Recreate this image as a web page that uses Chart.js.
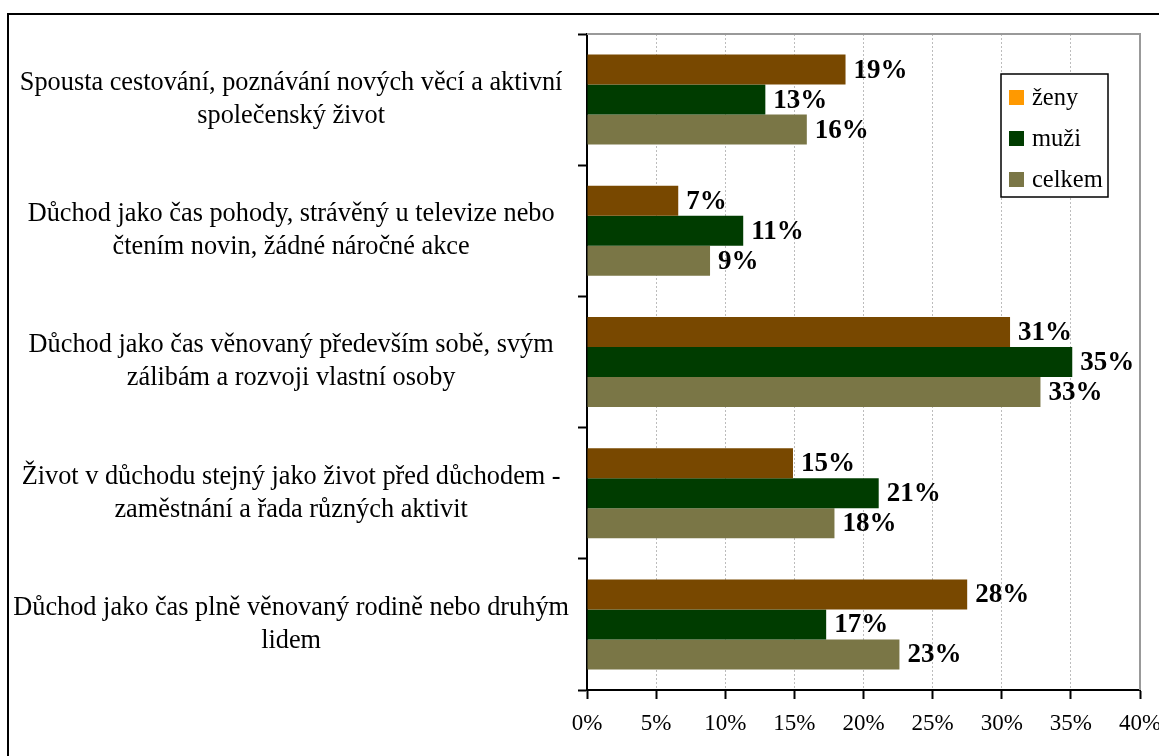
<!DOCTYPE html>
<html>
<head>
<meta charset="utf-8">
<script src="https://cdn.jsdelivr.net/npm/chart.js@4"></script>
<style>
  html, body { margin: 0; padding: 0; background: #fff; }
  #wrap { width: 1159px; height: 756px; position: relative; }
</style>
</head>
<body>
<div id="wrap"><canvas id="chart"></canvas></div>
<script>
const categories = [
  ["Spousta cestování, poznávání nových věcí a aktivní", "společenský život"],
  ["Důchod jako čas pohody, strávěný u televize nebo", "čtením novin, žádné náročné akce"],
  ["Důchod jako čas věnovaný především sobě, svým", "zálibám a rozvoji vlastní osoby"],
  ["Život v důchodu stejný jako život před důchodem -", "zaměstnání a řada různých aktivit"],
  ["Důchod jako čas plně věnovaný rodině nebo druhým", "lidem"]
];
const seriesNames = ["ženy", "muži", "celkem"];
const zeny = [18.7, 6.6, 30.6, 14.9, 27.5];
const muzi = [12.9, 11.3, 35.1, 21.1, 17.3];
const celkem = [15.9, 8.9, 32.8, 17.9, 22.6];
const xTicks = [0, 5, 10, 15, 20, 25, 30, 35, 40];

const barColors = ["#784800", "#003c00", "#7a7646"];
const legendColors = ["#ff9900", "#003c00", "#7a7646"];
const serif = "'Liberation Serif', 'Times New Roman', serif";

// outer frame + plot edges
const frame = {
  id: "frame",
  beforeDraw(c) {
    const ctx = c.ctx;
    ctx.save();
    ctx.fillStyle = "#fff";
    ctx.fillRect(0, 0, c.width, c.height);
    ctx.strokeStyle = "#000";
    ctx.lineWidth = 2;
    ctx.strokeRect(8, 14, c.width + 10, c.height + 10);
    ctx.restore();
  },
  beforeDatasetsDraw(c) {
    const { ctx, chartArea: a } = c;
    ctx.save();
    ctx.strokeStyle = "#999";
    ctx.lineWidth = 2;
    ctx.beginPath();
    ctx.moveTo(a.left, a.top);
    ctx.lineTo(a.right, a.top);
    ctx.lineTo(a.right, a.bottom);
    ctx.stroke();
    ctx.restore();
  }
};

// value labels and legend box
const labels = {
  id: "labels",
  afterDatasetsDraw(c) {
    const ctx = c.ctx;
    ctx.save();
    ctx.font = "bold 27px " + serif;
    ctx.fillStyle = "#000";
    ctx.textAlign = "left";
    ctx.textBaseline = "middle";
    c.data.datasets.forEach((ds, i) => {
      c.getDatasetMeta(i).data.forEach((bar, j) => {
        ctx.fillText(Math.round(ds.data[j]) + "%", bar.x + 8, bar.y + 1);
      });
    });

    // legend
    const lx = 1001, ly = 74, lw = 107, lh = 123;
    ctx.fillStyle = "#fff";
    ctx.fillRect(lx, ly, lw, lh);
    ctx.strokeStyle = "#000";
    ctx.lineWidth = 1.5;
    ctx.strokeRect(lx, ly, lw, lh);
    ctx.font = "24.5px " + serif;
    c.data.datasets.forEach((ds, i) => {
      const y = 97.5 + i * 41;
      ctx.fillStyle = legendColors[i];
      ctx.fillRect(lx + 8, y - 7.5, 15, 15);
      ctx.fillStyle = "#000";
      ctx.fillText(ds.label, lx + 31, y + 1);
    });
    ctx.restore();
  }
};

new Chart(document.getElementById("chart"), {
  type: "bar",
  data: {
    labels: categories,
    datasets: [
      { label: seriesNames[0], data: zeny, backgroundColor: barColors[0] },
      { label: seriesNames[1], data: muzi, backgroundColor: barColors[1] },
      { label: seriesNames[2], data: celkem, backgroundColor: barColors[2] }
    ]
  },
  options: {
    indexAxis: "y",
    responsive: true,
    maintainAspectRatio: false,
    animation: false,
    datasets: { bar: { categoryPercentage: 0.686, barPercentage: 1 } },
    layout: { padding: { top: 34, right: 19, left: 0, bottom: 0 } },
    plugins: { legend: { display: false }, tooltip: { enabled: false } },
    scales: {
      x: {
        min: 0,
        max: 40,
        afterBuildTicks: (s) => { s.ticks = xTicks.map((v) => ({ value: v })); },
        afterFit: (s) => { s.height = 66; s.paddingLeft = 0; s.paddingRight = 0; },
        ticks: {
          callback: (v) => v + "%",
          color: "#000",
          font: { family: serif, size: 23 },
          padding: 11,
          maxRotation: 0
        },
        grid: { color: "#bcbcbc", lineWidth: 1, tickColor: "#000", tickLength: 9, tickWidth: 2 },
        border: { color: "#000", width: 2, dash: [2, 2] }
      },
      y: {
        afterFit: (s) => { s.width = 587; s.paddingTop = 0; s.paddingBottom = 0; },
        ticks: {
          color: "#000",
          font: { family: serif, size: 26.3, lineHeight: 1.255 },
          crossAlign: "center",
          padding: 9
        },
        grid: { drawOnChartArea: false, tickColor: "#000", tickLength: 9, tickWidth: 2, offset: true },
        border: { color: "#000", width: 2 }
      }
    }
  },
  plugins: [frame, labels]
});
</script>
</body>
</html>
